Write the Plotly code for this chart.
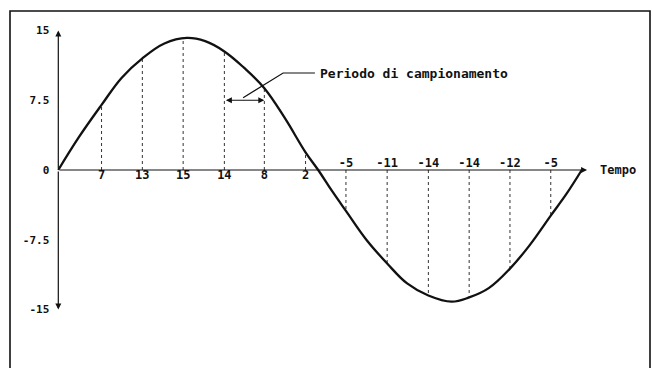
import plotly.graph_objects as go

# ---- data ----
curve_t = [0, 0.5, 1.06, 1.55, 2.06, 2.6, 3.15, 3.6, 4.07, 4.55, 5.05, 5.55, 6.06, 6.37,
           6.7, 7.05, 7.55, 8.06, 8.55, 9.07, 9.64, 10.07, 10.55, 11.07, 11.55, 12.07, 12.45, 12.83]
curve_v = [0, 3.5, 7.0, 9.9, 12.0, 13.6, 14.2, 13.85, 12.75, 11.0, 8.8, 5.6, 1.9, 0,
           -2.2, -4.4, -7.5, -10.05, -12.2, -13.5, -14.16, -13.7, -12.7, -10.6, -8.1, -4.9, -2.6, 0]
sample_t = [1.06, 2.06, 3.06, 4.07, 5.05, 6.06, 7.05, 8.06, 9.07, 10.07, 11.07, 12.07]
sample_v = [7.0, 12.0, 14.15, 12.75, 8.8, 1.9, -4.4, -10.05, -13.5, -13.7, -10.6, -4.9]
sample_labels = ["7", "13", "15", "14", "8", "2", "-5", "-11", "-14", "-14", "-12", "-5"]
ytick_vals = [15, 7.5, 0, -7.5, -15]
ytick_text = ["15", "7.5", "0", "-7.5", "-15"]
axis_t_end = 12.96
axis_v_max = 15
axis_v_min = -15
period_arrow_v = 7.5
leader_t = [4.53, 5.51, 6.29]
leader_v = [7.77, 10.43, 10.43]
period_label = "Periodo di campionamento"
time_label = "Tempo"

# ---- layout geometry ----
W, H = 652, 368
X0_PX, PX_PER_T = 58.3, 40.8
Y0_PX, PX_PER_V = 170.0, 9.3
x_range = [-X0_PX / PX_PER_T, (W - X0_PX) / PX_PER_T]
y_range = [-(H - Y0_PX) / PX_PER_V, Y0_PX / PX_PER_V]

FONT = "DejaVu Sans Mono"
INK = "#111111"

fig = go.Figure()

# dotted sample lines
dx, dy = [], []
for t, v in zip(sample_t, sample_v):
    dx += [t, t, None]
    dy += [0, v, None]
fig.add_trace(go.Scatter(x=dx, y=dy, mode="lines",
                         line=dict(color="#333333", width=1, dash="dot"),
                         hoverinfo="skip", showlegend=False))

# the continuous signal
fig.add_trace(go.Scatter(x=curve_t, y=curve_v, mode="lines",
                         line=dict(color=INK, width=2.3, shape="spline", smoothing=1.1),
                         hoverinfo="skip", showlegend=False))

# sample value labels
pos = [(t, l) for t, v, l in zip(sample_t, sample_v, sample_labels) if v >= 0]
neg = [(t, l) for t, v, l in zip(sample_t, sample_v, sample_labels) if v < 0]
fig.add_trace(go.Scatter(x=[p[0] for p in pos], y=[0] * len(pos), mode="text",
                         text=["<b>%s</b>" % p[1] for p in pos], textposition="bottom center",
                         textfont=dict(family=FONT, size=12, color=INK),
                         hoverinfo="skip", showlegend=False))
fig.add_trace(go.Scatter(x=[p[0] for p in neg], y=[0] * len(neg), mode="text",
                         text=["<b>%s</b>" % p[1] for p in neg], textposition="top center",
                         textfont=dict(family=FONT, size=12, color=INK),
                         hoverinfo="skip", showlegend=False))

arrow_common = dict(showarrow=True, text="", axref="x", ayref="y",
                    arrowhead=2, arrowsize=1, arrowwidth=1.2, arrowcolor=INK)
annotations = [
    dict(x=0, y=axis_v_max, ax=0, ay=0, **arrow_common),
    dict(x=0, y=axis_v_min, ax=0, ay=0, **arrow_common),
    dict(x=axis_t_end, y=0, ax=0, ay=0, **arrow_common),
    dict(x=sample_t[4], y=period_arrow_v, ax=sample_t[3], ay=period_arrow_v,
         arrowside="end+start", **arrow_common),
    dict(x=axis_t_end + 0.27, y=0, text="<b>%s</b>" % time_label, showarrow=False,
         xanchor="left", yanchor="middle", font=dict(family=FONT, size=12, color=INK)),
    dict(x=leader_t[-1] + 0.07, y=leader_v[-1], text="<b>%s</b>" % period_label, showarrow=False,
         xanchor="left", yanchor="middle", font=dict(family=FONT, size=13, color=INK)),
]

shapes = [
    dict(type="path", xref="x", yref="y",
         path="M %g %g L %g %g L %g %g" % (leader_t[0], leader_v[0], leader_t[1], leader_v[1],
                                          leader_t[2], leader_v[2]),
         line=dict(color=INK, width=1.2)),
    dict(type="rect", xref="paper", yref="paper",
         x0=10 / W, x1=650 / W, y0=-0.05, y1=1 - 11 / H,
         line=dict(color=INK, width=1.6)),
]

fig.update_layout(
    width=W, height=H,
    margin=dict(l=0, r=0, t=0, b=0),
    paper_bgcolor="white", plot_bgcolor="white",
    annotations=annotations, shapes=shapes,
    xaxis=dict(range=x_range, visible=False, fixedrange=True),
    yaxis=dict(range=y_range, anchor="free", position=X0_PX / W,
               showline=False, showgrid=False, zeroline=False, ticks="",
               tickvals=ytick_vals, ticktext=["<b>%s</b>" % s for s in ytick_text],
               tickfont=dict(family=FONT, size=11, color=INK),
               ticklabelstandoff=9, fixedrange=True),
    showlegend=False,
)

fig.write_html("out.html", config={"displayModeBar": False},
               post_script="document.body.style.margin='0px';")
